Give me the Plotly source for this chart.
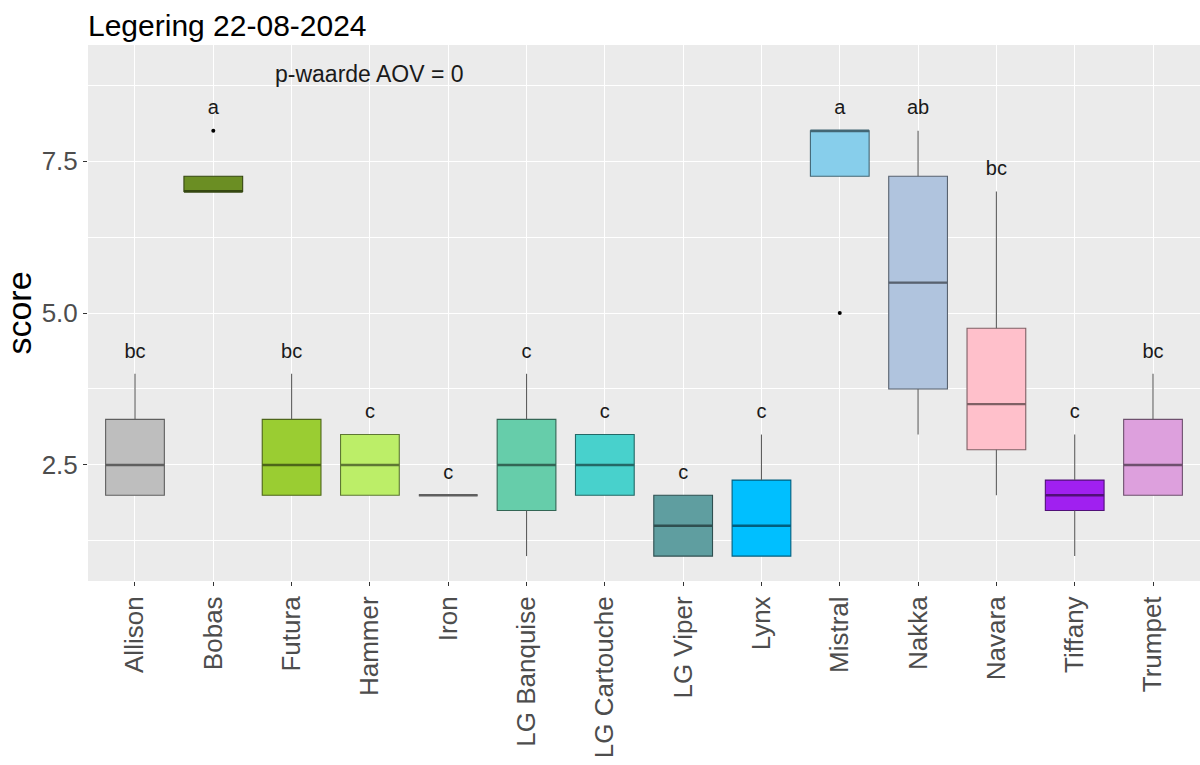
import plotly.graph_objects as go

# Summary statistics per variety (score 1-9)
varieties = ["Allison", "Bobas", "Futura", "Hammer", "Iron", "LG Banquise", "LG Cartouche",
             "LG Viper", "Lynx", "Mistral", "Nakka", "Navara", "Tiffany", "Trumpet"]
lower = [2, 7, 2, 2, 2, 1, 2, 1, 1, 7.25, 3, 2, 1, 2]
q1 = [2, 7, 2, 2, 2, 1.75, 2, 1, 1, 7.25, 3.75, 2.75, 1.75, 2]
median = [2.5, 7, 2.5, 2.5, 2, 2.5, 2.5, 1.5, 1.5, 8, 5.5, 3.5, 2, 2.5]
q3 = [3.25, 7.25, 3.25, 3, 2, 3.25, 3, 2, 2.25, 8, 7.25, 4.75, 2.25, 3.25]
upper = [4, 7.25, 4, 3, 2, 4, 3, 2, 3, 8, 8, 7, 3, 4]
outlier_x = ["Bobas", "Mistral"]
outlier_y = [8, 5]
letters = ["bc", "a", "bc", "c", "c", "c", "c", "c", "c", "a", "ab", "bc", "c", "bc"]
fills = ["#BEBEBE", "#6B8E23", "#9ACD32", "#BCEE68", "#BEBEBE", "#66CDAA", "#48D1CC",
         "#5F9EA0", "#00BFFF", "#87CEEB", "#B0C4DE", "#FFC0CB", "#A020F0", "#DDA0DD"]

FONT = "Liberation Sans, Arial, sans-serif"
BOX_W = 0.75
WHISKER = "#5E5E5E"


def darken(hex_color, f=0.5):
    h = hex_color.lstrip("#")
    r, g, b = (int(h[i:i + 2], 16) for i in (0, 2, 4))
    return "#{:02X}{:02X}{:02X}".format(int(r * f), int(g * f), int(b * f))


fig = go.Figure()
pos = {v: i for i, v in enumerate(varieties)}

for i, v in enumerate(varieties):
    dark = darken(fills[i])
    # whiskers in neutral grey
    fig.add_trace(go.Scatter(
        x=[i, i, None, i, i], y=[lower[i], q1[i], None, q3[i], upper[i]],
        mode="lines", line=dict(color=WHISKER, width=1.1),
        showlegend=False, hoverinfo="skip"))
    fig.add_trace(go.Box(
        x=[i], q1=[q1[i]], median=[median[i]], q3=[q3[i]],
        lowerfence=[q1[i]], upperfence=[q3[i]],
        width=BOX_W, whiskerwidth=0, boxpoints=False,
        fillcolor=fills[i], line=dict(color=dark, width=1.1),
        showlegend=False, hoverinfo="skip"))
    # thicker median bar, as in ggplot
    fig.add_trace(go.Scatter(
        x=[i - BOX_W / 2, i + BOX_W / 2], y=[median[i], median[i]],
        mode="lines", line=dict(color=dark, width=2.4),
        showlegend=False, hoverinfo="skip"))

# outliers
fig.add_trace(go.Scatter(
    x=[pos[v] for v in outlier_x], y=outlier_y, mode="markers",
    marker=dict(color="black", size=4), showlegend=False, hoverinfo="skip"))

# significance letters above each box
tops = []
for i, v in enumerate(varieties):
    m = upper[i]
    for ox, oy in zip(outlier_x, outlier_y):
        if ox == v:
            m = max(m, oy)
    tops.append(m + 0.35)
fig.add_trace(go.Scatter(
    x=list(range(len(varieties))), y=tops, mode="text", text=letters,
    textposition="middle center",
    textfont=dict(family=FONT, size=20, color="#1A1A1A"),
    showlegend=False, hoverinfo="skip"))

fig.add_annotation(x=pos["Hammer"], y=8.93, xref="x", yref="y", text="p-waarde AOV = 0",
                   showarrow=False, font=dict(family=FONT, size=23, color="#1A1A1A"),
                   xanchor="center", yanchor="middle")

fig.update_layout(
    width=1200, height=765,
    margin=dict(l=88, r=0, t=45, b=184),
    paper_bgcolor="white", plot_bgcolor="#EBEBEB",
    boxmode="overlay",
    title=dict(text="Legering 22-08-2024", x=88 / 1200, xref="container", xanchor="left",
               y=1 - 25 / 765, yref="container", yanchor="middle",
               font=dict(family=FONT, size=30, color="black")),
    xaxis=dict(range=[-0.6, len(varieties) - 0.4], tickmode="array",
               tickvals=list(range(len(varieties))), ticktext=varieties,
               tickangle=-90, tickfont=dict(family=FONT, size=26, color="#4D4D4D"),
               ticks="outside", ticklen=4, tickcolor="#333333", tickwidth=1,
               showgrid=True, gridcolor="white", gridwidth=1.2,
               zeroline=False, showline=False),
    yaxis=dict(range=[0.59, 9.41], tickmode="array", tickvals=[2.5, 5.0, 7.5],
               ticktext=["2.5", "5.0", "7.5"],
               tickfont=dict(family=FONT, size=26, color="#4D4D4D"),
               ticks="outside", ticklen=4, tickcolor="#333333", tickwidth=1,
               showgrid=True, gridcolor="white", gridwidth=1.2,
               minor=dict(tickvals=[1.25, 3.75, 6.25, 8.75], showgrid=True,
                          gridcolor="white", gridwidth=0.6, ticks=""),
               zeroline=False, showline=False,
               title=dict(text="score", standoff=6,
                          font=dict(family=FONT, size=34, color="black"))),
)

fig.write_html("out.html")
